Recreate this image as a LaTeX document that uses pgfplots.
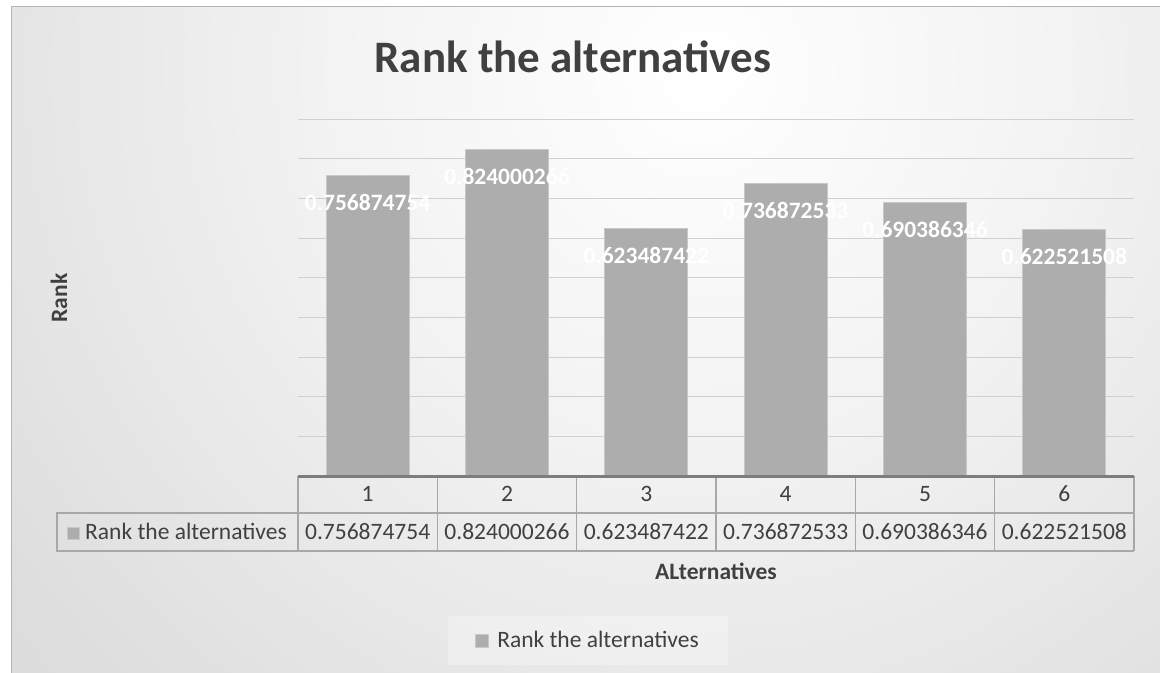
\documentclass[border=0pt]{standalone}
\usepackage{pgfplots}
\pgfplotsset{compat=1.18}
\usepackage{pgfplotstable}
\usepackage{fontspec}
\setmainfont{Carlito}
\definecolor{barc}{RGB}{173,173,173}
\definecolor{baredge}{RGB}{200,200,200}
\definecolor{gridc}{RGB}{208,208,208}
\definecolor{txt}{RGB}{64,64,64}
\definecolor{tline}{RGB}{168,168,168}
\definecolor{tbold}{RGB}{125,125,125}
\definecolor{framec}{RGB}{180,180,180}
\pgfdeclareradialshading{bgshade}{\pgfpoint{0bp}{0bp}}{color(0bp)=(white); color(10bp)=(black!5); color(22bp)=(black!13); color(38bp)=(black!21); color(50bp)=(black!26)}
\newcommand{\tf}{\fontsize{23.5bp}{28bp}\selectfont}
\pgfplotstableread{
x y label
1 0.756874754 0.756874754
2 0.824000266 0.824000266
3 0.623487422 0.623487422
4 0.736872533 0.736872533
5 0.690386346 0.690386346
6 0.622521508 0.622521508
}\ranktable
\begin{document}
\begin{tikzpicture}
\useasboundingbox (0bp,0bp) rectangle (1160bp,673bp);
\fill[white] (0bp,0bp) rectangle (1160bp,673bp);
\begin{scope}
\clip (11bp,0bp) rectangle (1160bp,666bp);
\shade[shading=bgshade] (700bp,603bp) circle (960bp);
\end{scope}
\draw[framec, line width=1bp] (11bp,0bp) -- (11bp,666bp) -- (1160bp,666bp);
% title
\node[anchor=base, text=txt, font=\fontsize{45bp}{54bp}\selectfont\bfseries] at (573bp,600bp) {Rank the alternatives};
\begin{axis}[
  at={(298bp,197bp)}, anchor=south west,
  scale only axis, width=836bp, height=357bp,
  xmin=0.5, xmax=6.5, ymin=0, ymax=0.9,
  ybar, bar width=83bp,
  xtick=\empty,
  ytick={0.1,0.2,0.3,0.4,0.5,0.6,0.7,0.8,0.9},
  yticklabels={},
  ymajorgrids, grid style={gridc, line width=1bp},
  major tick length=0pt,
  axis line style={draw=none},
  clip=false,
  legend style={at={(0.347,-0.461)}, anchor=center, draw=none,
    fill=white, fill opacity=0.3, text opacity=1, text=txt,
    font=\tf, inner xsep=27bp, inner ysep=13.5bp},
]
\addplot[fill=barc, draw=baredge, line width=0.8bp,
  point meta=explicit symbolic,
  nodes near coords,
  nodes near coords style={anchor=center, yshift=-27bp, text=white, font=\tf\bfseries},
  legend image code/.code={\draw[fill=barc, draw=baredge, line width=0.8bp, fill opacity=1, draw opacity=1] (0bp,-6.5bp) rectangle (13bp,6.5bp); \path (19bp,0bp);}
] table[x=x, y=y, meta=label] {\ranktable};
\addlegendentry{Rank the alternatives}
\end{axis}
% data table
\begin{scope}[tline, line width=1.3bp]
\draw (298bp,122bp) -- (1134bp,122bp);
\draw (298bp,160bp) -- (1134bp,160bp);
\draw (57bp,160bp) rectangle (298bp,122bp);
\foreach \c in {298,437.33,576.67,716,855.33,994.67,1134} {\draw (\c bp,197bp) -- (\c bp,122bp);}
\end{scope}
\draw[tbold, line width=2.5bp] (298bp,196.5bp) -- (1134bp,196.5bp);
\fill[barc, draw=baredge, line width=0.6bp] (67bp,134bp) rectangle (79bp,146bp);
\node[anchor=base west, text=txt, font=\tf, inner sep=0pt] at (85bp,133bp) {Rank the alternatives};
\foreach \i/\v [count=\k] in {1/0.756874754,2/0.824000266,3/0.623487422,4/0.736872533,5/0.690386346,6/0.622521508} {
  \pgfmathsetmacro{\cx}{298+139.333*(\k-0.5)}
  \node[anchor=base, text=txt, font=\tf, inner sep=0pt] at (\cx bp,171bp) {\i};
  \node[anchor=base, text=txt, font=\tf, inner sep=0pt] at (\cx bp,133bp) {\v};
}
% axis titles
\node[anchor=base, text=txt, font=\tf\bfseries] at (716bp,93bp) {ALternatives};
\node[rotate=90, text=txt, font=\tf\bfseries] at (59bp,375bp) {Rank};
\end{tikzpicture}
\end{document}
